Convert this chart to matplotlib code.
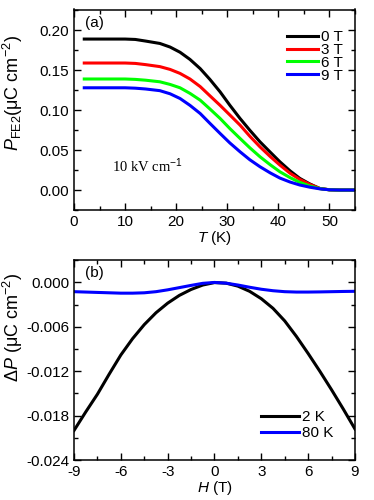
import numpy as np
import matplotlib
matplotlib.use('Agg')
import matplotlib.pyplot as plt
from matplotlib.ticker import MultipleLocator

plt.rcParams['font.family'] = ['Liberation Sans', 'DejaVu Sans']
plt.rcParams['mathtext.fontset'] = 'custom'
plt.rcParams['mathtext.rm'] = 'Liberation Sans'
plt.rcParams['mathtext.it'] = 'Liberation Sans:italic'
plt.rcParams['font.size'] = 11

# panel (a): P_FE2 vs T for several fields
T = [2, 6, 10, 12, 14, 16.8, 18.8, 20.75, 22.7, 24.7, 26.6, 28.6, 30.5, 32.5,
     34.4, 36.4, 38.4, 40.3, 42.3, 44.2, 46.2, 48.1, 50, 52, 55]
p0T = [0.189, 0.189, 0.189, 0.1885, 0.1865, 0.1835, 0.179, 0.1725, 0.1635, 0.152,
       0.1385, 0.1229, 0.1062, 0.0896, 0.075, 0.0604, 0.0475, 0.0354, 0.024, 0.0146,
       0.0075, 0.002, 0.0003, 0.0, 0.0]
p3T = [0.159, 0.159, 0.159, 0.1585, 0.157, 0.1545, 0.151, 0.146, 0.139, 0.1295,
       0.118, 0.106, 0.094, 0.0813, 0.0675, 0.0541, 0.042, 0.0313, 0.021, 0.0133,
       0.007, 0.002, 0.0003, 0.0, 0.0]
p6T = [0.139, 0.139, 0.139, 0.1385, 0.1375, 0.1355, 0.1322, 0.128, 0.121, 0.1125,
       0.1015, 0.0896, 0.077, 0.0646, 0.053, 0.0417, 0.0317, 0.0229, 0.0155, 0.0096,
       0.005, 0.0018, 0.0003, 0.0, 0.0]
p9T = [0.128, 0.128, 0.128, 0.1275, 0.1265, 0.1244, 0.1205, 0.1146, 0.106, 0.0958,
       0.0835, 0.0708, 0.059, 0.0479, 0.038, 0.0292, 0.0215, 0.015, 0.010, 0.0063,
       0.0035, 0.0015, 0.0003, 0.0, 0.0]

# panel (b): delta P vs H
H = [-9, -8.25, -7.5, -6.75, -6, -5.25, -4.5, -3.75, -3, -2.25, -1.5, -0.75, 0,
     0.75, 1.5, 2.25, 3, 3.75, 4.5, 5.25, 6, 6.75, 7.5, 8.25, 9]
dp2K = [-0.0200, -0.0175, -0.0151, -0.0124, -0.0098, -0.0076, -0.0057, -0.0041,
        -0.0028, -0.00175, -0.00095, -0.00035, -0.00002,
        -0.0001, -0.0005, -0.0012, -0.0022, -0.0035, -0.0052, -0.0073, -0.0096,
        -0.0120, -0.0145, -0.0171, -0.0198]
dp80K = [-0.00125, -0.0013, -0.00135, -0.0014, -0.00145, -0.00145, -0.0014, -0.00125,
         -0.0010, -0.0007, -0.0004, -0.00012, 0.0,
         -0.0001, -0.00035, -0.00065, -0.00092, -0.00112, -0.00125, -0.0013, -0.0013,
         -0.00128, -0.00125, -0.00122, -0.0012]

fig = plt.figure(figsize=(3.74, 5.0), dpi=100)
ax1 = fig.add_axes([0.198, 0.58, 0.751, 0.401])
ax2 = fig.add_axes([0.198, 0.08, 0.751, 0.401])

lw = 2.2
ax1.plot(T, p0T, color='black', lw=lw, label='0 T')
ax1.plot(T, p3T, color='#ff0000', lw=lw, label='3 T')
ax1.plot(T, p6T, color='#00ff00', lw=lw, label='6 T')
ax1.plot(T, p9T, color='#0000ff', lw=lw, label='9 T')
ax1.set_xlim(0, 55)
ax1.set_ylim(-0.025, 0.226)
ax1.xaxis.set_major_locator(MultipleLocator(10))
ax1.xaxis.set_minor_locator(MultipleLocator(5))
ax1.yaxis.set_major_locator(MultipleLocator(0.05))
ax1.yaxis.set_minor_locator(MultipleLocator(0.025))
ax1.set_xlabel('$T$ (K)', labelpad=0)
ax1.set_ylabel(r'$P_{\rm FE2}$(μC cm$^{-2}$)', fontsize=13)
ax1.yaxis.set_label_coords(-0.175, 0.585)
ax1.text(0.04, 0.97, '(a)', transform=ax1.transAxes, va='top', ha='left')
ax1.text(0.135, 0.22, '10 kV cm$^{-1}$', transform=ax1.transAxes,
         family='Liberation Serif', fontsize=10.5, va='center')
ax1.legend(loc='upper left', bbox_to_anchor=(0.71, 0.965), frameon=False,
           handlelength=2.0, handletextpad=0.2, labelspacing=-0.08, fontsize=11)

ax2.plot(H, dp2K, color='black', lw=lw, label='2 K')
ax2.plot(H, dp80K, color='#0000ff', lw=lw, label='80 K')
ax2.set_xlim(-9, 9)
ax2.set_ylim(-0.024, 0.0031)
ax2.xaxis.set_minor_locator(MultipleLocator(1.5))
ax2.yaxis.set_minor_locator(MultipleLocator(0.003))
ax2.set_yticks([0.0, -0.006, -0.012, -0.018, -0.024])
ax2.set_yticklabels(['0.000', '-0.006', '-0.012', '-0.018', '-0.024'])
ax2.set_xticks([-9, -6, -3, 0, 3, 6, 9])
ax2.set_xticklabels(['-9', '-6', '-3', '0', '3', '6', '9'])
ax2.set_xlabel('$H$ (T)', labelpad=0)
ax2.set_ylabel(r'Δ$P$ (μC cm$^{-2}$)', fontsize=13)
ax2.yaxis.set_label_coords(-0.175, 0.66)
ax2.text(0.04, 0.97, '(b)', transform=ax2.transAxes, va='top', ha='left')
ax2.legend(loc='lower left', bbox_to_anchor=(0.615, 0.03), frameon=False,
           handlelength=2.5, handletextpad=0.2, labelspacing=0.15, fontsize=11)

for ax in (ax1, ax2):
    ax.tick_params(which='both', direction='in', top=True, right=True, width=1)
    ax.tick_params(which='major', length=5)
    ax.tick_params(which='minor', length=3)
    for s in ax.spines.values():
        s.set_linewidth(1.1)

fig.savefig('out.png', dpi=100)
